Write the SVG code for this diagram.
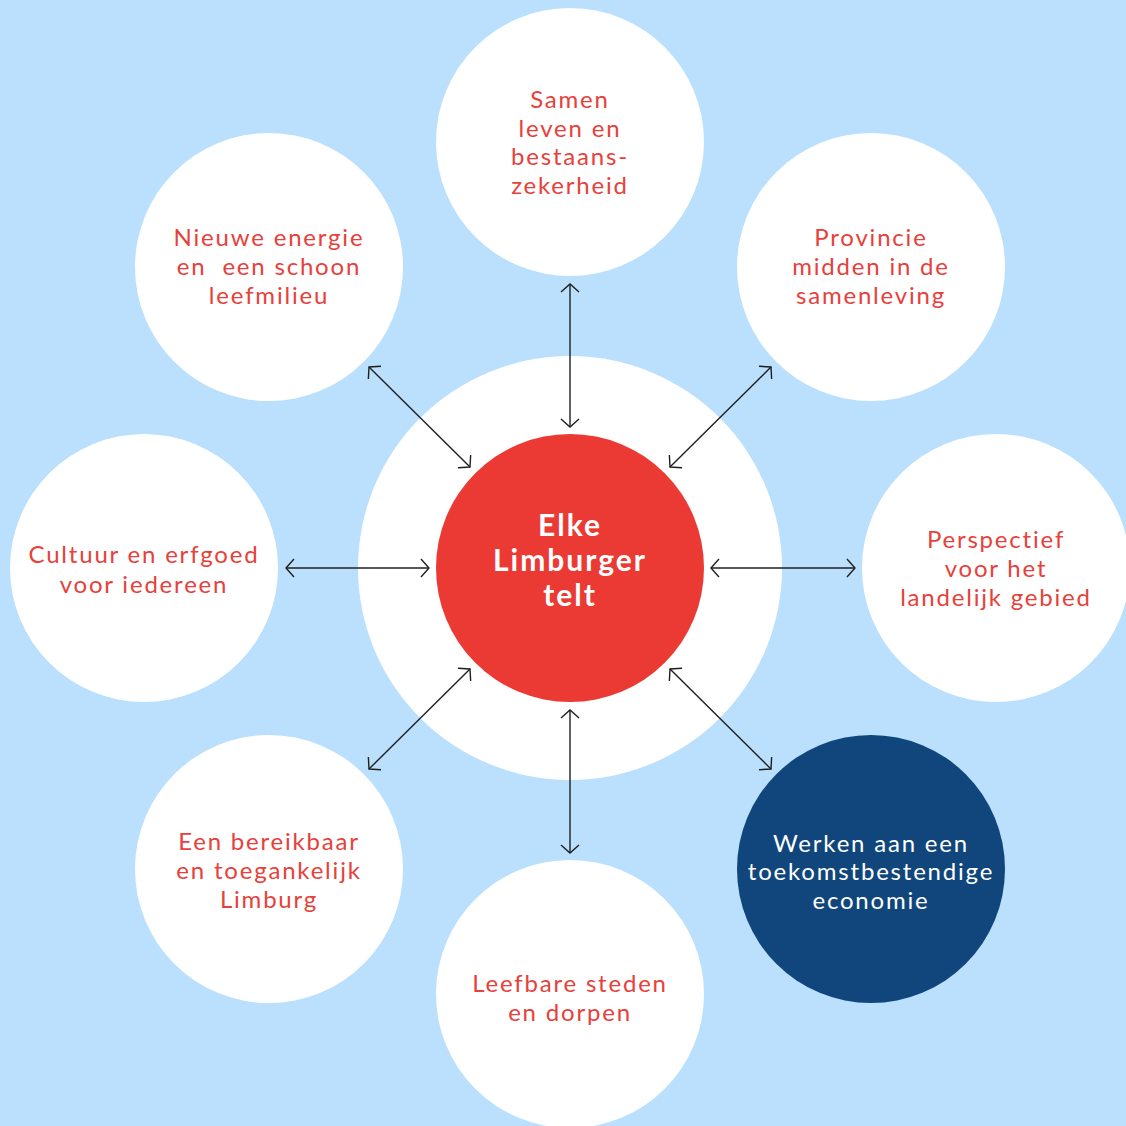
<svg xmlns="http://www.w3.org/2000/svg" width="1126" height="1126" viewBox="0 0 1126 1126">
  <style>
    .bubble { fill: #ffffff; }
    .lbl { font-family: "Lato", "Open Sans", "Liberation Sans", sans-serif; font-size: 24px; fill: #e8403a; text-anchor: middle; letter-spacing: 1.8px; }
    .lbl-w { fill: #ffffff; }
    .center-lbl { font-family: "Lato", "Open Sans", "Liberation Sans", sans-serif; font-size: 30px; font-weight: bold; fill: #ffffff; text-anchor: middle; letter-spacing: 2px; }
    .conn { stroke: #1f1f1f; stroke-width: 1.4; fill: none; marker-start: url(#arr); marker-end: url(#arr); }
  </style>
  <defs>
    <marker id="arr" viewBox="-10 -10 12 20" refX="0" refY="0" markerWidth="12" markerHeight="20" markerUnits="userSpaceOnUse" orient="auto-start-reverse">
      <path d="M-8,-9 L0,0 L-8,9" fill="none" stroke="#1f1f1f" stroke-width="1.4"/>
    </marker>
  </defs>
  <rect x="0" y="0" width="1126" height="1126" fill="#bae0fd"/>

  <g id="hub">
    <circle cx="570" cy="568" r="212" fill="#ffffff"/>
    <circle cx="570" cy="568" r="134" fill="#eb3a34"/>
    <text class="center-lbl" x="570" y="536">Elke</text>
    <text class="center-lbl" x="570" y="571">Limburger</text>
    <text class="center-lbl" x="570" y="606">telt</text>
  </g>

  <g id="node-samen-leven">
    <circle class="bubble" cx="570" cy="142" r="134"/>
    <text class="lbl" x="570" y="108">Samen</text>
    <text class="lbl" x="570" y="137">leven en</text>
    <text class="lbl" x="570" y="165">bestaans-</text>
    <text class="lbl" x="570" y="194">zekerheid</text>
  </g>

  <g id="node-nieuwe-energie">
    <circle class="bubble" cx="269" cy="267" r="134"/>
    <text class="lbl" x="269" y="246">Nieuwe energie</text>
    <text class="lbl" x="269" y="275" xml:space="preserve">en  een schoon</text>
    <text class="lbl" x="269" y="304">leefmilieu</text>
  </g>

  <g id="node-provincie">
    <circle class="bubble" cx="871" cy="267" r="134"/>
    <text class="lbl" x="871" y="246">Provincie</text>
    <text class="lbl" x="871" y="275">midden in de</text>
    <text class="lbl" x="871" y="304">samenleving</text>
  </g>

  <g id="node-cultuur">
    <circle class="bubble" cx="144" cy="568" r="134"/>
    <text class="lbl" x="144" y="563">Cultuur en erfgoed</text>
    <text class="lbl" x="144" y="593">voor iedereen</text>
  </g>

  <g id="node-perspectief">
    <circle class="bubble" cx="996" cy="568" r="134"/>
    <text class="lbl" x="996" y="548">Perspectief</text>
    <text class="lbl" x="996" y="577">voor het</text>
    <text class="lbl" x="996" y="606">landelijk gebied</text>
  </g>

  <g id="node-bereikbaar">
    <circle class="bubble" cx="269" cy="869" r="134"/>
    <text class="lbl" x="269" y="850">Een bereikbaar</text>
    <text class="lbl" x="269" y="879">en toegankelijk</text>
    <text class="lbl" x="269" y="908">Limburg</text>
  </g>

  <g id="node-leefbare">
    <circle class="bubble" cx="570" cy="994" r="134"/>
    <text class="lbl" x="570" y="992">Leefbare steden</text>
    <text class="lbl" x="570" y="1021">en dorpen</text>
  </g>

  <g id="node-werken">
    <circle cx="871" cy="869" r="134" fill="#10467b"/>
    <text class="lbl lbl-w" x="871" y="852">Werken aan een</text>
    <text class="lbl lbl-w" x="871" y="880">toekomstbestendige</text>
    <text class="lbl lbl-w" x="871" y="909">economie</text>
  </g>

  <g id="connectors">
    <line class="conn" x1="570" y1="284" x2="570" y2="427"/>
    <line class="conn" x1="369" y1="367" x2="470" y2="467"/>
    <line class="conn" x1="771" y1="367" x2="670" y2="467"/>
    <line class="conn" x1="286" y1="568" x2="429" y2="568"/>
    <line class="conn" x1="711" y1="568" x2="855" y2="568"/>
    <line class="conn" x1="470" y1="669" x2="369" y2="769"/>
    <line class="conn" x1="570" y1="710" x2="570" y2="853"/>
    <line class="conn" x1="670" y1="669" x2="771" y2="769"/>
  </g>
</svg>
